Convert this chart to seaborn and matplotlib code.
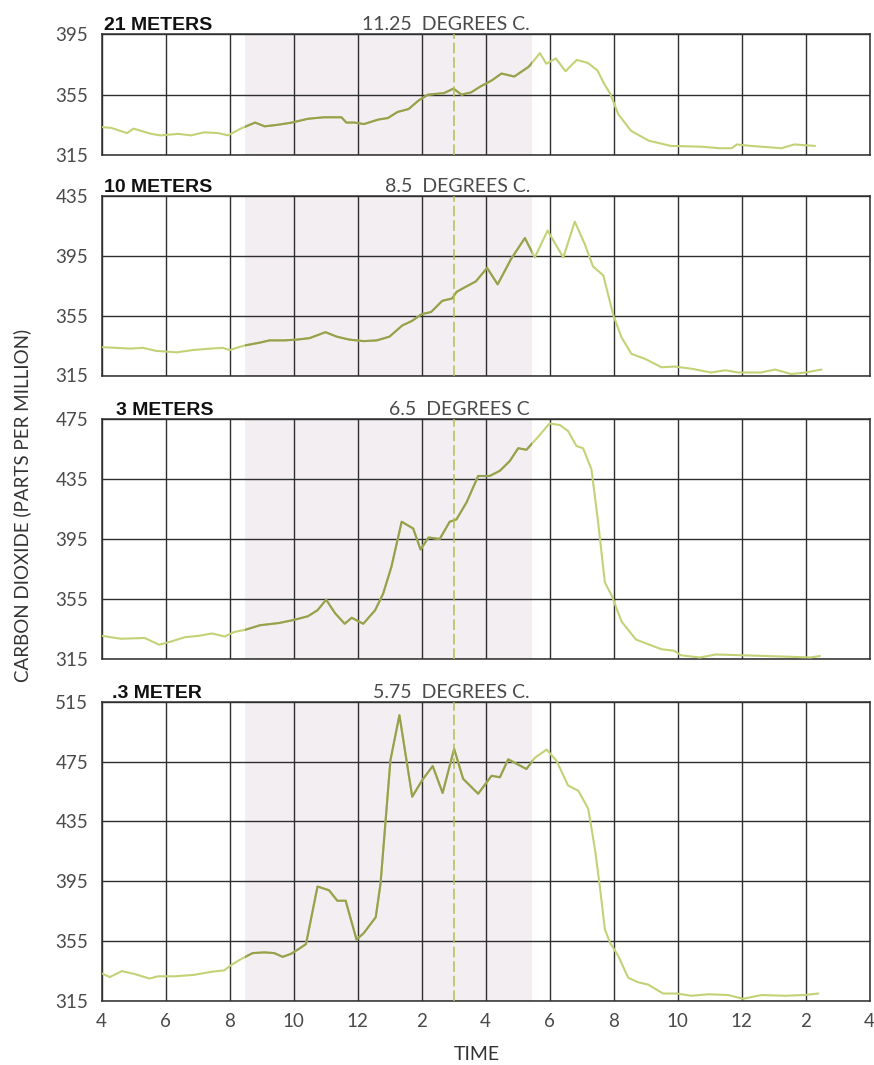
import matplotlib
matplotlib.use("Agg")
import matplotlib.pyplot as plt
import seaborn as sns
import numpy as np

# time axis: hours after 4 PM
tick_hours = [0, 2, 4, 6, 8, 10, 12, 14, 16, 18, 20, 22, 24]
tick_labels = ["4", "6", "8", "10", "12", "2", "4", "6", "8", "10", "12", "2", "4"]
dark_start, dark_end = 4.47, 13.45   # shaded (night) band
dashed_hour = 11                      # 3 AM marker

depth_labels = ["21 METERS", "10 METERS", "3 METERS", ".3 METER"]
temp_labels = ["11.25  DEGREES C.", "8.5  DEGREES C.", "6.5  DEGREES C", "5.75  DEGREES C."]
y_ticks = [[315, 355, 395],
           [315, 355, 395, 435],
           [315, 355, 395, 435, 475],
           [315, 355, 395, 435, 475, 515]]

t21 = [0, 0.3, 0.8, 1.0, 1.55, 1.85, 2.4, 2.8, 3.2, 3.65, 3.95, 4.35, 4.8, 5.1, 5.5,
       5.95, 6.45, 6.95, 7.5, 7.65, 7.9, 8.2, 8.65, 8.95, 9.25, 9.6, 9.9, 10.2, 10.7, 11.0,
       11.25, 11.55, 11.85, 12.2, 12.5, 12.9, 13.35, 13.7, 13.9, 14.2, 14.5, 14.85, 15.2, 15.5,
       15.7, 15.9, 16.15, 16.55, 17.1, 17.8, 18.75, 19.3, 19.7, 19.85, 20.3, 21.25, 21.65, 22.3]
c21 = [333.5, 333, 329.5, 332.5, 329, 328, 329, 328, 330, 329.5, 328, 332.5, 336.5, 334, 335,
       336.5, 339, 340, 340, 336.5, 336.5, 335.5, 338.5, 339.5, 343.5, 345.5, 351, 355, 356, 359,
       355, 356.5, 360.5, 364.5, 369, 367, 373.5, 382.5, 375.5, 379, 370.5, 378, 376, 371,
       362.5, 355.5, 342, 331, 324.5, 321, 320.5, 319.5, 319.5, 322, 321, 319.5, 322, 321]

t10 = [0, 0.45, 0.9, 1.3, 1.7, 2.35, 2.85, 3.4, 3.8, 4.0, 4.45, 4.95, 5.25, 5.7, 6.1,
       6.5, 7.0, 7.35, 7.75, 8.2, 8.6, 9.0, 9.4, 9.7, 10.0, 10.3, 10.65, 10.95, 11.1, 11.35,
       11.7, 12.05, 12.38, 12.8, 13.23, 13.54, 13.94, 14.43, 14.79, 15.1, 15.36, 15.68, 16.0,
       16.25, 16.56, 17.0, 17.5, 17.9, 18.45, 19.05, 19.5, 19.9, 20.6, 21.05, 21.55, 22.0, 22.5]
c10 = [334, 333.5, 333, 333.5, 331.5, 330.5, 332, 333, 333.5, 332, 335, 337, 338.5, 338.5, 339,
       340, 344, 341, 339, 338, 338.5, 341, 348.5, 351.5, 356, 357.5, 365, 366.5, 371, 374,
       378, 387, 376, 393, 407, 394, 412, 394, 418, 403, 388, 382, 355,
       340.5, 329.5, 326, 320.5, 321, 319.5, 317, 318.5, 317, 317, 319, 316, 317, 319]

t3 = [0, 0.6, 1.35, 1.8, 2.15, 2.6, 3.05, 3.45, 3.85, 4.15, 4.5, 4.95, 5.55, 6.0, 6.45,
      6.75, 7.02, 7.3, 7.6, 7.82, 8.18, 8.55, 8.8, 9.06, 9.38, 9.74, 9.97, 10.22, 10.57, 10.88,
      11.09, 11.41, 11.77, 12.13, 12.45, 12.76, 13.02, 13.28, 13.64, 14.0, 14.32, 14.58, 14.84,
      15.05, 15.31, 15.52, 15.73, 15.95, 16.25, 16.7, 17.5, 17.9, 18.1, 18.7, 19.2, 20.0,
      20.75, 21.5, 22.15, 22.45]
c3 = [330.5, 328.5, 329, 324.5, 326.5, 329.5, 330.5, 332, 330, 333, 334.5, 337.5, 339, 341, 343.5,
      347.5, 354.5, 345.5, 338.5, 342.5, 338.5, 347.5, 358.5, 376.5, 406.5, 402, 388, 396, 395, 406.5,
      408, 419.5, 437, 437, 440.5, 447, 455.5, 454.5, 463, 472, 471, 467, 457,
      455.5, 441.5, 406, 366, 357, 340, 328, 321.5, 320.5, 317.5, 316, 318, 317.5,
      317, 316.5, 316, 317]

t03 = [0, 0.26, 0.64, 1.04, 1.5, 1.77, 2.28, 2.9, 3.43, 3.84, 4.05, 4.36, 4.72, 5.09, 5.4,
       5.66, 5.92, 6.18, 6.39, 6.75, 7.11, 7.37, 7.63, 7.97, 8.2, 8.57, 8.72, 9.03, 9.31, 9.71,
       10.02, 10.35, 10.66, 11.02, 11.3, 11.77, 12.19, 12.45, 12.71, 13.28, 13.54, 13.91, 14.22,
       14.58, 14.9, 15.21, 15.42, 15.57, 15.73, 15.89, 16.15, 16.46, 16.77, 17.08, 17.55,
       17.97, 18.44, 18.96, 19.58, 20.05, 20.63, 21.35, 21.98, 22.4]
c03 = [333.5, 331, 335, 333, 330, 331.5, 331.5, 332.5, 334.5, 335.5, 339, 343, 347, 347.5, 347,
       344.5, 346.5, 350, 353, 391.5, 389, 382, 382, 356, 360.5, 371, 393.5, 476, 506, 451.5,
       462.5, 472, 454, 483.5, 463.5, 453.5, 465.5, 464.5, 476.5, 470, 477.5, 483, 475.5,
       459, 455.5, 443.5, 416.5, 392, 363, 354, 345, 330.5, 327.5, 326, 320,
       320, 318.5, 319.5, 319, 316.5, 319, 318.5, 319, 320]

series = [(t21, c21), (t10, c10), (t3, c3), (t03, c03)]

sns.set_theme(style="white")
plt.rcParams["font.family"] = ["Liberation Sans", "DejaVu Sans"]
LIGHT_FONT = ["Lato", "Liberation Sans", "DejaVu Sans"]
TEXT_GRAY = "#4a4a4a"

LINE_LIGHT = "#c3d276"
LINE_DARK = "#96a14f"
SHADE = "#f2eef2"
GRID = "#2e2e2e"

W, H = 874, 1065
fig = plt.figure(figsize=(W / 100, H / 100), dpi=100)

# panel boxes in pixels: (top, bottom)
boxes = [(34.3, 155), (196.2, 375.5), (419, 659), (701.7, 1001)]
left_px, right_px = 101.5, 869.5
label_dx = [2, 2, 14, 11]

for i, ((top, bot), (t, c)) in enumerate(zip(boxes, series)):
    ax = fig.add_axes([left_px / W, 1 - bot / H, (right_px - left_px) / W, (bot - top) / H])
    span = ax.axvspan(dark_start, dark_end, color=SHADE, lw=0, zorder=0)
    ax.set_axisbelow(True)

    sns.lineplot(x=t, y=c, ax=ax, color=LINE_LIGHT, lw=1.5, zorder=3)
    sns.lineplot(x=t, y=c, ax=ax, color=LINE_DARK, lw=1.5, zorder=4)
    ax.lines[-1].set_clip_path(span)

    ax.axvline(dashed_hour, color="#b3bf55", lw=1.1, dashes=(7, 2.5), zorder=5)

    ax.set_xlim(0, 24)
    ax.set_ylim(y_ticks[i][0], y_ticks[i][-1])
    ax.set_xticks(tick_hours)
    ax.set_yticks(y_ticks[i])
    ax.grid(True, color=GRID, lw=1.0)
    for s in ax.spines.values():
        s.set_color(GRID)
        s.set_linewidth(1.1)
        s.set_visible(True)
    ax.tick_params(length=0, labelsize=13.5, labelcolor=TEXT_GRAY)
    ax.tick_params(axis="y", pad=9.5)
    ax.tick_params(axis="x", pad=8.5)
    if i == 3:
        ax.set_xticklabels(tick_labels)
    else:
        ax.set_xticklabels([])
    for lab in ax.get_xticklabels() + ax.get_yticklabels():
        lab.set_family(LIGHT_FONT)
        lab.set_fontweight("normal")
    ax.set_xlabel("")
    ax.set_ylabel("")

    ax.annotate(depth_labels[i], xy=(0, 1), xycoords="axes fraction",
                xytext=(label_dx[i] * 0.72, 3), textcoords="offset points",
                ha="left", va="baseline", fontsize=14, fontweight="bold", color="#111111")
    ax.annotate(temp_labels[i], xy=((530 - left_px) / (right_px - left_px), 1),
                xycoords="axes fraction", xytext=(0, 3), textcoords="offset points",
                ha="right", va="baseline", fontsize=14, color=TEXT_GRAY,
                family=LIGHT_FONT, fontweight="normal")

fig.text(22 / W, 1 - 505 / H, "CARBON DIOXIDE (PARTS PER MILLION)", rotation=90,
         ha="center", va="center", fontsize=13.5, color="#333333",
         family=LIGHT_FONT, fontweight="normal")
fig.text(477 / W, 1 - 1055 / H, "TIME", ha="center", va="center", fontsize=14,
         color="#333333", family=LIGHT_FONT, fontweight="normal")

fig.savefig("out.png", dpi=100)
